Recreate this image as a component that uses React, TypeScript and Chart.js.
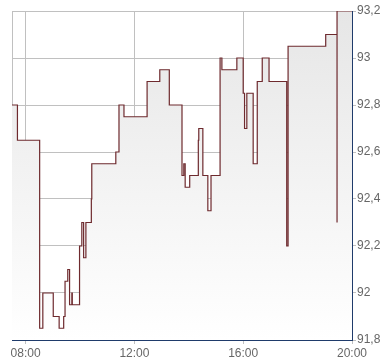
import React, { useEffect, useRef } from "react";
import { Chart, registerables } from "chart.js";

Chart.register(...registerables);

// Times of price changes (HH:MM) and the new price from that moment
const times = [
  "07:30", "07:42", "08:31", "08:38", "09:01", "09:14", "09:24", "09:27", "09:33", "09:37",
  "09:42", "09:43", "09:59", "10:04", "10:08", "10:13", "10:25", "10:26", "11:19", "11:26",
  "11:37", "12:28", "12:56", "13:17", "13:45", "13:49", "13:52", "14:02", "14:21", "14:22",
  "14:31", "14:42", "14:49", "15:09", "15:13", "15:46", "16:00", "16:03", "16:08", "16:22",
  "16:31", "16:42", "16:57", "17:36", "17:39", "19:02", "19:27", "19:27", "20:00",
];
const prices = [
  92.8, 92.65, 91.85, 92.0, 91.9, 91.85, 91.9, 92.05, 92.1, 91.95,
  92.0, 91.95, 92.2, 92.3, 92.15, 92.3, 92.4, 92.55, 92.6, 92.8,
  92.75, 92.9, 92.95, 92.8, 92.5, 92.55, 92.45, 92.5, 92.65, 92.7,
  92.5, 92.35, 92.5, 93.0, 92.95, 93.0, 92.85, 92.7, 92.85, 92.55,
  92.9, 93.0, 92.9, 92.2, 93.05, 93.1, 92.3, 93.2, 93.2,
];
const xTickHours = [8, 12, 16, 20];
const yMin = 91.8;
const yMax = 93.2;
const yStep = 0.2;

const toHours = (t: string) => {
  const [h, m] = t.split(":").map(Number);
  return h + m / 60;
};

const pad2 = (n: number) => (n < 10 ? "0" + n : "" + n);

export default function App() {
  const ref = useRef<HTMLCanvasElement | null>(null);

  useEffect(() => {
    if (!ref.current) return;
    const data = times.map((t, i) => ({ x: toHours(t), y: prices[i] }));

    const leftBorder = {
      id: "leftBorder",
      beforeDatasetsDraw(chart: any) {
        const { ctx, chartArea } = chart;
        ctx.save();
        ctx.strokeStyle = "#c0c0c0";
        ctx.lineWidth = 1;
        ctx.beginPath();
        ctx.moveTo(Math.round(chartArea.left) + 0.5, chartArea.top);
        ctx.lineTo(Math.round(chartArea.left) + 0.5, chartArea.bottom);
        ctx.stroke();
        ctx.restore();
      },
    };

    const chart = new Chart(ref.current, {
      type: "line",
      data: {
        datasets: [
          {
            data,
            stepped: "before",
            borderColor: "#6e2a2e",
            borderWidth: 1.2,
            pointRadius: 0,
            fill: "start",
            backgroundColor: (c: any) => {
              const area = c.chart.chartArea;
              if (!area) return "#eeeeee";
              const g = c.chart.ctx.createLinearGradient(0, area.top, 0, area.bottom);
              g.addColorStop(0, "#e6e6e6");
              g.addColorStop(1, "#ffffff");
              return g;
            },
          },
        ],
      },
      options: {
        responsive: false,
        animation: false,
        events: [],
        layout: { padding: { left: 12, top: 11, right: 0, bottom: 0 } },
        plugins: { legend: { display: false }, tooltip: { enabled: false } },
        scales: {
          x: {
            type: "linear",
            min: 7.5,
            max: 20,
            afterBuildTicks: (s: any) => {
              s.ticks = xTickHours.map((v) => ({ value: v }));
            },
            afterFit: (s: any) => {
              s.height = 24;
            },
            ticks: {
              autoSkip: false,
              maxRotation: 0,
              padding: 2,
              color: "#666666",
              font: { family: "'Liberation Sans', Arial, sans-serif", size: 12 },
              callback: (v: any) => pad2(Number(v)) + ":00",
            },
            grid: { color: "#c0c0c0", tickLength: 4, lineWidth: 1 },
            border: { color: "#1f3b6b", width: 1 },
          },
          y: {
            position: "right",
            min: yMin,
            max: yMax,
            afterFit: (s: any) => {
              s.width = 38;
            },
            ticks: {
              stepSize: yStep,
              padding: 1,
              color: "#666666",
              font: { family: "'Liberation Sans', Arial, sans-serif", size: 12 },
              callback: (v: any) => String(Number(Number(v).toFixed(1))).replace(".", ","),
            },
            grid: { color: "#c0c0c0", tickLength: 4, lineWidth: 1 },
            border: { color: "#1f3b6b", width: 1 },
          },
        },
      },
      plugins: [leftBorder],
    } as any);

    return () => chart.destroy();
  }, []);

  return (
    <div style={{ position: "fixed", left: 0, top: 0, width: 390, height: 364, background: "#fff" }}>
      <canvas ref={ref} width={390} height={364} />
    </div>
  );
}
